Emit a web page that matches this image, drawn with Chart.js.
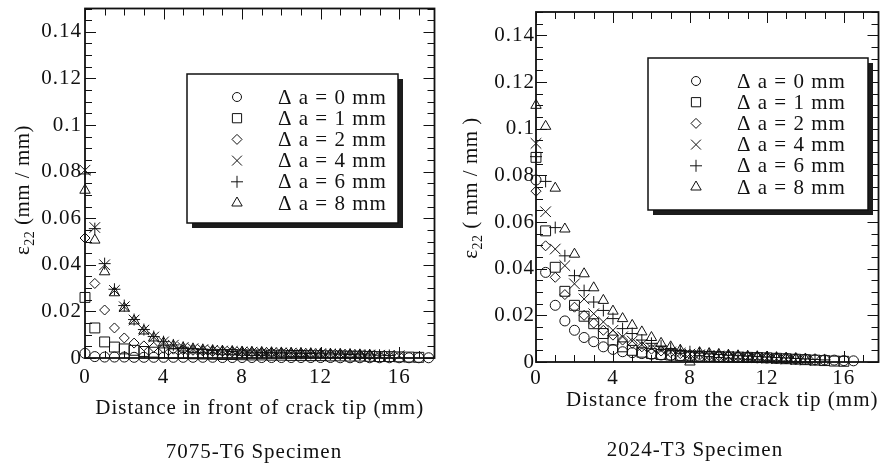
<!DOCTYPE html>
<html>
<head>
<meta charset="utf-8">
<title>Strain ahead of the crack tip</title>
<script src="https://cdn.jsdelivr.net/npm/chart.js@4.4.1/dist/chart.umd.min.js"></script>
<style>
    html, body { margin: 0; padding: 0; background: #fff; }
    #wrap { position: relative; width: 887px; height: 464px; overflow: hidden; }
    #leftChart { position: absolute; left: 0; top: 0; }
    #rightChart { position: absolute; left: 443px; top: 0; }
</style>
</head>
<body>
<div id="wrap">
    <canvas id="leftChart" width="443" height="464"></canvas>
    <canvas id="rightChart" width="444" height="464"></canvas>
</div>
<script>
// Gauge positions ahead of the crack tip (mm), shared by both specimens
const xPos = [0, 0.5, 1, 1.5, 2, 2.5, 3, 3.5, 4, 4.5, 5, 5.5, 6, 6.5, 7, 7.5, 8, 8.5,
    9, 9.5, 10, 10.5, 11, 11.5, 12, 12.5, 13, 13.5, 14, 14.5, 15, 15.5, 16, 16.5, 17, 17.5];

// Crack extension of each series (mm)
const deltaA = [0, 1, 2, 4, 6, 8];

// Axis ticks
const xTicks = [0, 4, 8, 12, 16];
const yTicks = [0, 0.02, 0.04, 0.06, 0.08, 0.1, 0.12, 0.14];
const yTickLabels = ['0', '0.02', '0.04', '0.06', '0.08', '0.1', '0.12', '0.14'];

// 7075-T6 specimen, strain e22 (mm/mm)
const t6Da0 = [0.002, 0.0006, 0.0004, 0.0004, 0.0004, 0.0003, 0.0003, 0.0003, 0.0003, 0.0003, 0.0003, 0.0003,
    0.0003, 0.0003, 0.0002, 0.0002, 0.0002, 0.0002, 0.0002, 0.0002, 0.0002, 0.0002, 0.0002, 0.0002,
    0.0002, 0.0002, 0.0001, 0.0001, 0.0001, 0.0001, 0.0001, 0.0001, 0.0001, 0.0001, 0.0001, 0.0001];
const t6Da1 = [0.026, 0.0129, 0.0069, 0.0047, 0.0039, 0.0033, 0.0028, 0.0025, 0.0022, 0.002, 0.0019, 0.0018,
    0.0017, 0.0016, 0.0015, 0.0015, 0.0014, 0.0013, 0.0013, 0.0012, 0.0012, 0.0011, 0.0011, 0.001,
    0.001, 0.0009, 0.0009, 0.0008, 0.0008, 0.0007, 0.0006, 0.0006, 0.0005, 0.0004, 0.0003];
const t6Da2 = [0.0515, 0.032, 0.0206, 0.0129, 0.0086, 0.0064, 0.0052, 0.0046, 0.0042, 0.0038, 0.0035, 0.0033,
    0.003, 0.0028, 0.0027, 0.0026, 0.0025, 0.0024, 0.0023, 0.0022, 0.0021, 0.002, 0.0019, 0.0018,
    0.0017, 0.0016, 0.0015, 0.0014, 0.0013, 0.0012];
const t6Da4 = [0.0806, 0.056, 0.040, 0.029, 0.022, 0.0163, 0.012, 0.009, 0.0069, 0.0055, 0.0045, 0.004,
    0.0036, 0.0033, 0.003, 0.0028, 0.0026, 0.0025, 0.0024, 0.0023, 0.0022, 0.0021, 0.002, 0.0019,
    0.0018, 0.0017, 0.0016, 0.0015, 0.0014, 0.0013, 0.0012, 0.0011, 0.001];
const t6Da6 = [0.079, 0.0555, 0.0405, 0.0295, 0.0225, 0.0165, 0.0122, 0.0092, 0.007, 0.0056, 0.0046, 0.004,
    0.0036, 0.0032, 0.003, 0.0028, 0.0026, 0.0025, 0.0024, 0.0023, 0.0022, 0.0021, 0.002, 0.0019,
    0.0018, 0.0017, 0.0016, 0.0015, 0.0014, 0.0013, 0.0012, 0.0011];
const t6Da8 = [0.072, 0.0506, 0.037, 0.028, 0.0214, 0.0159, 0.0116, 0.0086, 0.0065, 0.0052, 0.0043, 0.0038,
    0.0034, 0.0031, 0.0029, 0.0027, 0.0025, 0.0024, 0.0023, 0.0022, 0.0021, 0.002, 0.0019, 0.0018,
    0.0017, 0.0016, 0.0015, 0.0014, 0.0013, 0.0012];

// 2024-T3 specimen, strain e22 (mm/mm)
const t3Da0 = [0.078, 0.0384, 0.0243, 0.0176, 0.0136, 0.0105, 0.0087, 0.0065, 0.0054, 0.0044, 0.004, 0.0036,
    0.0033, 0.003, 0.0028, 0.0026, 0.0025, 0.0024, 0.0023, 0.0022, 0.0021, 0.002, 0.0019, 0.0018,
    0.0017, 0.0016, 0.0015, 0.0013, 0.0012, 0.001, 0.0009, 0.0008, 0.0006, 0.0005];
const t3Da1 = [0.0877, 0.0562, 0.0406, 0.0303, 0.0243, 0.0196, 0.0164, 0.0122, 0.0094, 0.0065, 0.005, 0.0042,
    0.0036, 0.0032, 0.003, 0.0028, 0.0026, 0.0025, 0.0024, 0.0023, 0.0022, 0.0021, 0.002, 0.0019,
    0.0018, 0.0016, 0.0014, 0.0012, 0.001, 0.0008, 0.0006, 0.0004, 0.0003];
const t3Da2 = [0.0732, 0.0498, 0.0363, 0.0289, 0.0235, 0.020, 0.0167, 0.0136, 0.0115, 0.0094, 0.008, 0.0065,
    0.0055, 0.0047, 0.0041, 0.0036, 0.0033, 0.003, 0.0028, 0.0026, 0.0025, 0.0024, 0.0022, 0.002,
    0.0018, 0.0016, 0.0014, 0.0012];
const t3Da4 = [0.0937, 0.0644, 0.0484, 0.0413, 0.0335, 0.027, 0.0207, 0.0172, 0.0136, 0.0108, 0.009, 0.0075,
    0.006, 0.005, 0.0043, 0.0038, 0.0034, 0.0031, 0.0028, 0.0026, 0.0024, 0.0022, 0.002, 0.0018,
    0.0016, 0.0014, 0.0012, 0.001, 0.0008, 0.0006];
const t3Da6 = [0.088, 0.0774, 0.0576, 0.0455, 0.037, 0.0306, 0.0257, 0.0221, 0.0186, 0.0143, 0.0122, 0.0094,
    0.008, 0.0068, 0.0058, 0.005, 0.0044, 0.0039, 0.0035, 0.0032, 0.0029, 0.0027, 0.0025, 0.0023,
    0.0021, 0.0019, 0.0017, 0.0015, 0.0013, 0.0011, 0.0009];
const t3Da8 = [0.110, 0.101, 0.0745, 0.057, 0.0462, 0.0378, 0.0318, 0.0264, 0.0218, 0.0186, 0.0157, 0.0129,
    0.0105, 0.008, 0.0065, 0.005, 0.0, 0.004, 0.0036, 0.0032, 0.0029, 0.0026, 0.0024, 0.0022,
    0.002, 0.0018, 0.0016, 0.0014, 0.0012];

// Marker look, one per series
const markerStyles = ['circle', 'rect', 'rectRot', 'crossRot', 'cross', 'triangle'];
const markerRadius = [5, 7, 5, 7.5, 6, 6];
const legendRadius = [4.5, 6.5, 5, 7, 6, 6];

const SERIF = '"Liberation Serif", "Times New Roman", serif';
const INK = '#111';

function buildDatasets(seriesList) {
    return seriesList.map((values, i) => ({
        label: `\u0394 a = ${deltaA[i]} mm`,
        data: values.map((v, j) => ({ x: xPos[j], y: v })),
        pointStyle: markerStyles[i],
        pointRadius: markerRadius[i],
        pointBorderWidth: 1,
        pointBorderColor: INK,
        pointBackgroundColor: 'rgba(0,0,0,0)',
        showLine: false,
        clip: false
    }));
}

// Frame with inward ticks on all four sides
const frameTicks = {
    id: 'frameTicks',
    beforeDraw(chart) {
        chart.ctx.letterSpacing = '1px';
    },
    beforeDatasetsDraw(chart) {
        const { ctx, chartArea: a, scales: { x, y } } = chart;
        ctx.save();
        ctx.strokeStyle = INK;
        ctx.lineWidth = 1;
        ctx.beginPath();
        for (let i = 0; i * 0.005 <= y.max + 1e-9; i++) {
            const py = Math.round(y.getPixelForValue(i * 0.005)) + 0.5;
            const len = i % 4 === 0 ? 11 : 7;
            ctx.moveTo(a.left, py); ctx.lineTo(a.left + len, py);
            ctx.moveTo(a.right, py); ctx.lineTo(a.right - len, py);
        }
        for (let i = 0; i <= x.max; i++) {
            const px = Math.round(x.getPixelForValue(i)) + 0.5;
            const len = i % 4 === 0 ? 11 : 7;
            ctx.moveTo(px, a.bottom); ctx.lineTo(px, a.bottom - len);
            ctx.moveTo(px, a.top); ctx.lineTo(px, a.top + len);
        }
        ctx.stroke();
        ctx.lineWidth = 1.8;
        ctx.strokeRect(a.left, a.top, a.right - a.left, a.bottom - a.top);
        ctx.restore();
    }
};

// Boxed legend with a drop shadow, drawn inside the plot
const boxLegend = {
    id: 'boxLegend',
    afterDatasetsDraw(chart, args, opts) {
        const ctx = chart.ctx;
        const b = opts.box;
        ctx.save();
        ctx.fillStyle = '#1c1c1c';
        ctx.fillRect(b.left + 5, b.top + 5, b.width, b.height);
        ctx.fillStyle = '#fff';
        ctx.fillRect(b.left, b.top, b.width, b.height);
        ctx.strokeStyle = INK;
        ctx.lineWidth = 1.5;
        ctx.strokeRect(b.left, b.top, b.width, b.height);

        chart.data.datasets.forEach((ds, i) => {
            const rowY = opts.rowTop + i * opts.rowGap;
            ctx.strokeStyle = INK;
            ctx.fillStyle = 'rgba(0,0,0,0)';
            ctx.lineWidth = 1;
            Chart.helpers.drawPoint(ctx, {
                pointStyle: ds.pointStyle,
                radius: legendRadius[i],
                borderWidth: 1,
                rotation: 0
            }, opts.markerX, rowY);
            ctx.fillStyle = INK;
            ctx.font = '21px ' + SERIF;
            ctx.letterSpacing = '1px';
            ctx.textAlign = 'left';
            ctx.textBaseline = 'middle';
            ctx.fillText(ds.label, opts.textX, rowY + 1);
        });
        ctx.restore();
    }
};

// y title with a real subscript, and the specimen caption underneath
const captions = {
    id: 'captions',
    afterDraw(chart, args, opts) {
        const ctx = chart.ctx;
        ctx.save();
        ctx.fillStyle = INK;

        ctx.font = '21px ' + SERIF;
        ctx.letterSpacing = '1px';
        ctx.textAlign = 'center';
        ctx.textBaseline = 'middle';
        ctx.fillText(opts.caption, opts.captionX, opts.captionY);

        ctx.translate(opts.yTitleX, opts.yTitleY);
        ctx.rotate(-Math.PI / 2);
        ctx.textAlign = 'left';
        ctx.textBaseline = 'alphabetic';
        ctx.letterSpacing = '0.5px';
        ctx.font = '21px ' + SERIF;
        const w1 = ctx.measureText('\u03b5').width;
        const w3 = ctx.measureText(opts.yUnit).width;
        ctx.font = '14px ' + SERIF;
        const w2 = ctx.measureText('22').width;
        let pos = -(w1 + w2 + w3) / 2;
        ctx.font = '21px ' + SERIF;
        ctx.fillText('\u03b5', pos, 0);
        ctx.font = '14px ' + SERIF;
        ctx.fillText('22', pos + w1, 5);
        ctx.font = '21px ' + SERIF;
        ctx.fillText(opts.yUnit, pos + w1 + w2, 0);
        ctx.restore();
    }
};

function makeChart(canvasId, seriesList, cfg) {
    const ctx = document.getElementById(canvasId).getContext('2d');
    return new Chart(ctx, {
        type: 'scatter',
        data: { datasets: buildDatasets(seriesList) },
        options: {
            responsive: false,
            animation: false,
            devicePixelRatio: 1,
            layout: { padding: { top: cfg.top, right: cfg.right, bottom: cfg.bottom, left: 0 } },
            plugins: {
                legend: { display: false },
                tooltip: { enabled: false },
                boxLegend: cfg.legend,
                captions: cfg.captions
            },
            scales: {
                x: {
                    type: 'linear',
                    min: 0,
                    max: 17.8,
                    grid: { display: false, drawTicks: false },
                    border: { display: false },
                    afterBuildTicks: s => { s.ticks = xTicks.map(v => ({ value: v })); },
                    afterFit: s => { s.height = cfg.xAxisHeight; s.paddingLeft = 0; s.paddingRight = 0; },
                    ticks: {
                        color: INK,
                        padding: cfg.xTickPad,
                        maxRotation: 0,
                        font: { family: SERIF, size: 21 },
                        callback: v => String(v)
                    },
                    title: {
                        display: true,
                        text: cfg.xTitle,
                        align: cfg.xTitleAlign,
                        color: INK,
                        padding: 0,
                        font: { family: SERIF, size: 21 }
                    }
                },
                y: {
                    type: 'linear',
                    min: 0,
                    max: 0.15,
                    grid: { display: false, drawTicks: false },
                    border: { display: false },
                    afterBuildTicks: s => { s.ticks = yTicks.map(v => ({ value: v })); },
                    afterFit: s => { s.width = cfg.yAxisWidth; s.paddingTop = 0; s.paddingBottom = 0; },
                    ticks: {
                        color: INK,
                        padding: cfg.yTickPad,
                        font: { family: SERIF, size: 21 },
                        callback: (v, i) => yTickLabels[i]
                    }
                }
            }
        },
        plugins: [frameTicks, boxLegend, captions]
    });
}

makeChart('leftChart', [t6Da0, t6Da1, t6Da2, t6Da4, t6Da6, t6Da8], {
    top: 8, right: 5, bottom: 43,
    xAxisHeight: 63, yAxisWidth: 85,
    xTickPad: 7, yTickPad: 3,
    xTitle: 'Distance in front of crack tip (mm)',
    xTitleAlign: 'center',
    legend: {
        box: { left: 187, top: 74, width: 211, height: 149 },
        markerX: 237, textX: 278, rowTop: 97, rowGap: 21.2
    },
    captions: {
        caption: '7075-T6 Specimen', captionX: 254, captionY: 452,
        yTitleX: 29, yTitleY: 190, yUnit: ' (mm / mm)'
    }
});

makeChart('rightChart', [t3Da0, t3Da1, t3Da2, t3Da4, t3Da6, t3Da8], {
    top: 12, right: 1, bottom: 51,
    xAxisHeight: 51, yAxisWidth: 93,
    xTickPad: 4, yTickPad: 1,
    xTitle: 'Distance from the crack tip (mm)',
    xTitleAlign: 'end',
    legend: {
        box: { left: 205, top: 58, width: 220, height: 152 },
        markerX: 253, textX: 294, rowTop: 81, rowGap: 21.2
    },
    captions: {
        caption: '2024-T3 Specimen', captionX: 252, captionY: 450,
        yTitleX: 34, yTitleY: 188, yUnit: ' ( mm / mm )'
    }
});
</script>
</body>
</html>
